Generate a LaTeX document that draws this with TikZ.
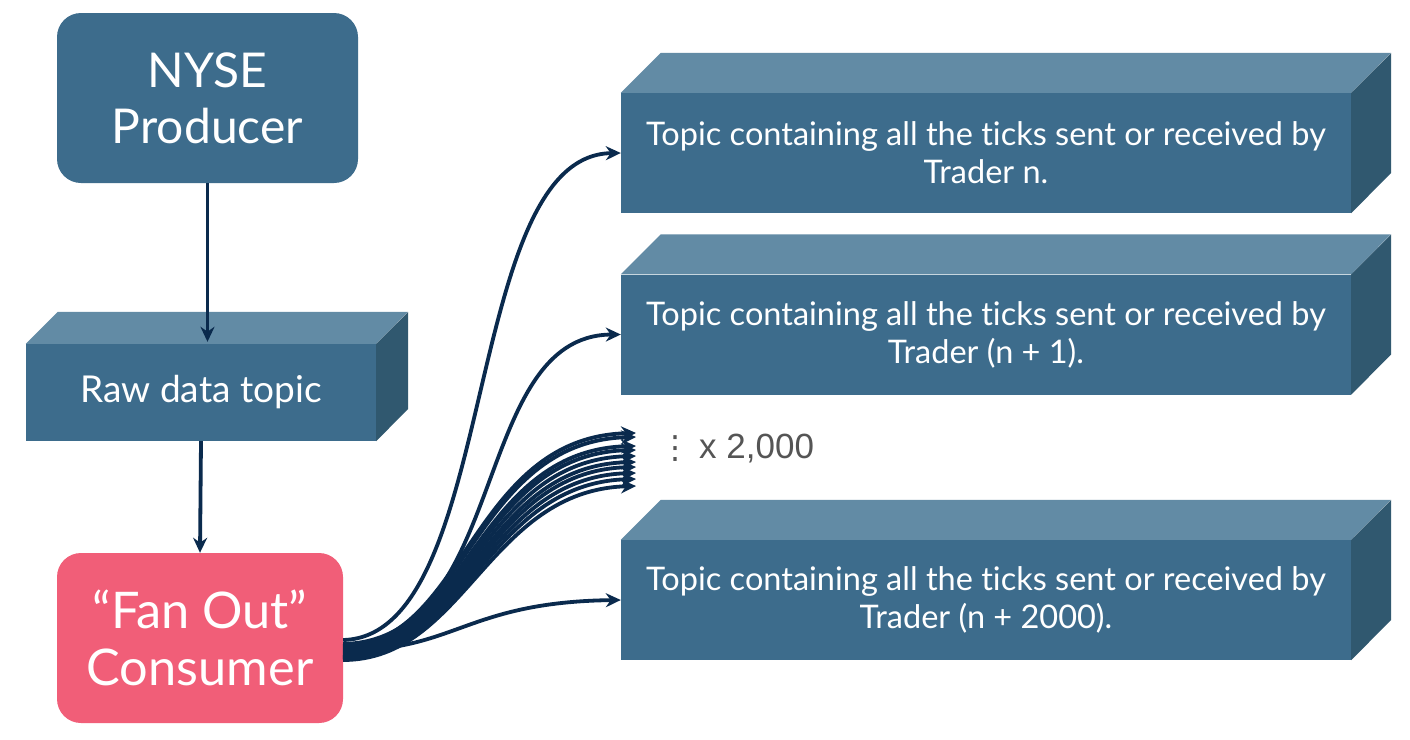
\documentclass[tikz,border=0pt]{standalone}
\usepackage{fontspec}
\setmainfont[Ligatures=NoCommon]{Lato}
\newfontfamily\symfont{DejaVu Sans}
\newfontfamily\helv{Liberation Sans}
\usetikzlibrary{arrows.meta}
\definecolor{boxblue}{HTML}{3D6C8C}
\definecolor{boxtop}{HTML}{628BA5}
\definecolor{boxside}{HTML}{30586F}
\definecolor{fanpink}{HTML}{F15E78}
\definecolor{navy}{HTML}{0A2A4D}
\definecolor{graytxt}{HTML}{555555}
\begin{document}
\begin{tikzpicture}[x=1pt,y=-1pt,
  front/.style={fill=boxblue, draw=none, inner sep=0pt, text=white, align=center},
  topface/.style={fill=boxtop, draw=none},
  sideface/.style={fill=boxside, draw=none},
  rbox/.style={draw=none, inner sep=0pt, rounded corners=24pt, text=white, align=center},
  conn/.style={navy, line width=3.8pt, -{Stealth[length=15pt,width=14pt]}},
  topictext/.style={font=\fontsize{32.5}{38}\selectfont}]
\useasboundingbox (0,0) rectangle (1410,739);
\fill[white] (0,0) rectangle (1410,739);

% NYSE producer
\node[rbox, fill=boxblue, minimum width=301pt, minimum height=170pt, font=\fontsize{48}{56}\selectfont] (nyse) at (207.5,98) {NYSE\\Producer};

% Raw data topic cube
\node[front, minimum width=350pt, minimum height=97pt, font=\fontsize{37}{42}\selectfont] (raw) at (201,392.5) {Raw data topic};
\fill[topface] (raw.north west) -- ++(32,-32) -- ++(350,0) -- (raw.north east) -- cycle;
\fill[sideface] (raw.north east) -- ++(32,-32) -- ++(0,97) -- (raw.south east) -- cycle;

% Fan out consumer
\node[rbox, fill=fanpink, minimum width=286pt, minimum height=170pt, font=\fontsize{50.5}{57}\selectfont] (fan) at (200,638) {\char"201C Fan Out\char"201D\\Consumer};

% Topic cubes
\node[front, minimum width=730pt, minimum height=120pt, topictext] (t1) at (986,153) {Topic containing all the ticks sent or received by\\Trader n.};
\node[front, minimum width=730pt, minimum height=120pt, topictext] (t2) at (986,334.5) {Topic containing all the ticks sent or received by\\Trader (n + 1).};
\node[front, minimum width=730pt, minimum height=120pt, topictext] (t3) at (986,600) {Topic containing all the ticks sent or received by\\Trader (n + 2000).};
\foreach \t in {t1,t2,t3}{
  \fill[topface] (\t.north west) -- ++(40,-40) -- ++(730,0) -- (\t.north east) -- cycle;
  \fill[sideface] (\t.north east) -- ++(40,-40) -- ++(0,120) -- (\t.south east) -- cycle;
}

% ellipsis label
\node[anchor=west, inner sep=0pt, text=graytxt, font=\symfont\fontsize{32}{36}\selectfont] (dots) at (659,449) {⋮};
\node[anchor=west, inner sep=0pt, text=graytxt, font=\helv\fontsize{35}{40}\selectfont] (times) at (699,449) {x 2,000};

% vertical arrows
\draw[conn] (nyse.south) -- ([yshift=2pt]raw.north -| nyse.south);
\draw[conn] (raw.south) -- (fan.north);

% fan-out connectors
\coordinate (s1) at ([yshift=-2pt]fan.east);
\coordinate (s2) at ([yshift=-6pt]fan.east);
\coordinate (s3) at ([yshift=-12pt]fan.east);
\draw[conn] (s1) .. controls (500,636) and (460,155) .. (t1.west);
\draw[conn] (s2) .. controls (510,640) and (470,335) .. (t2.west);
\draw[conn] (s3) .. controls (455,652) and (465,602) .. (t3.west);

\foreach \ye/\ys/\c in {433/646/470, 437/648/472, 446/650/474, 450/652/476, 456/654/478, 462/656/480, 467/657/482, 473/658/484, 479/659/486, 486/660/488}{
  \coordinate (e\ye) at (636,\ye);
  \coordinate (b\ye) at (343,\ys);
  \draw[conn] (b\ye) .. controls (465,\ys) and (\c,\ye+4) .. (e\ye);
}
\end{tikzpicture}
\end{document}
